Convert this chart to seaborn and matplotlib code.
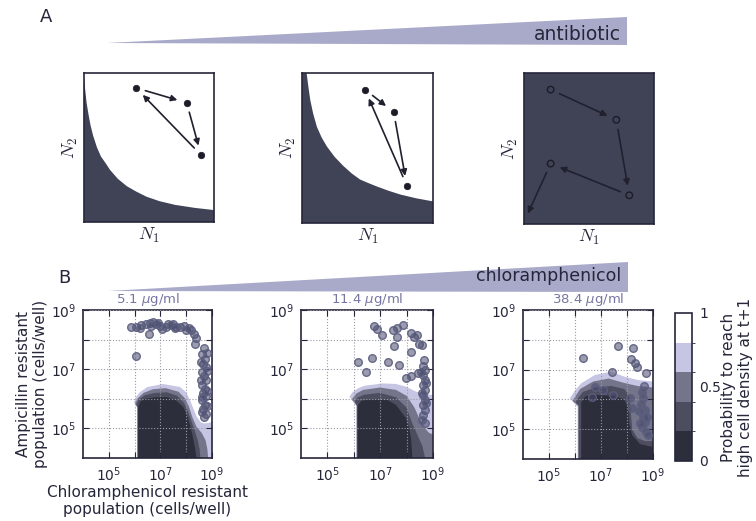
import numpy as np
import pandas as pd
import matplotlib
matplotlib.use("Agg")
import matplotlib.pyplot as plt
from matplotlib.patches import Polygon
from matplotlib.colors import ListedColormap, BoundaryNorm, to_rgba
from matplotlib.cm import ScalarMappable
from matplotlib.ticker import NullLocator
import seaborn as sns

sns.set_style("white")
plt.rcParams["font.family"] = ["DejaVu Sans"]

INK = "#26263a"
DARK = "#404256"
WEDGE = "#a9a9c9"

# ---------------- panel A: schematic trajectories (axes fractions) ----------------
a1_edge_x = [0.0, 0.01, 0.02, 0.035, 0.05, 0.07, 0.10, 0.13, 0.17, 0.20, 0.26, 0.33, 0.40,
             0.48, 0.58, 0.70, 0.85, 1.0]
a1_edge_y = [0.97, 0.88, 0.80, 0.72, 0.65, 0.58, 0.50, 0.44, 0.39, 0.35, 0.29, 0.24, 0.205,
             0.17, 0.14, 0.115, 0.095, 0.08]
a2_edge_x = [0.035, 0.05, 0.063, 0.085, 0.114, 0.15, 0.19, 0.25, 0.316, 0.38, 0.443, 0.51,
             0.57, 0.66, 0.75, 0.87, 1.0]
a2_edge_y = [1.0, 0.90, 0.82, 0.73, 0.64, 0.57, 0.51, 0.44, 0.38, 0.33, 0.29, 0.265,
             0.244, 0.215, 0.19, 0.165, 0.144]

a1_pts_x = [0.40, 0.79, 0.90]
a1_pts_y = [0.90, 0.80, 0.45]
a2_pts_x = [0.48, 0.70, 0.80]
a2_pts_y = [0.89, 0.74, 0.25]
a3_pts_x = [0.205, 0.71, 0.81, 0.205]
a3_pts_y = [0.89, 0.69, 0.19, 0.40]
a3_exit = [0.03, 0.07]

# ---------------- panel B: contour levels (log10 cells/well) ----------------
prob_levels = [0.0, 0.2, 0.4, 0.6, 0.8, 1.0]
prob_colors = ["#2d2e3b", "#4c4d5e", "#74758a", "#c6c6e4", "#ffffff"]

b1_p08 = ([6.10, 6.10, 5.98, 6.05, 6.20, 6.50, 7.10, 7.76, 8.00, 8.15, 8.30, 8.41, 8.55, 8.66, 8.85, 9.0, 9.0],
          [4.0, 5.70, 5.88, 6.05, 6.22, 6.40, 6.50, 6.40, 6.22, 5.95, 5.62, 5.39, 5.22, 5.17, 5.18, 5.22, 4.0])
b1_p06 = ([6.11, 6.11, 6.02, 6.12, 6.35, 6.70, 7.20, 7.70, 7.95, 8.10, 8.25, 8.40, 8.60, 8.75, 8.82, 8.85],
          [4.0, 5.72, 5.84, 6.02, 6.20, 6.32, 6.36, 6.24, 6.02, 5.75, 5.35, 5.05, 4.85, 4.60, 4.30, 4.0])
b1_p04 = ([6.12, 6.12, 6.06, 6.16, 6.40, 6.80, 7.25, 7.65, 7.90, 8.05, 8.20, 8.32, 8.45, 8.52, 8.55],
          [4.0, 5.72, 5.80, 5.98, 6.12, 6.20, 6.22, 6.10, 5.88, 5.62, 5.25, 4.95, 4.60, 4.30, 4.0])
b1_p02 = ([6.14, 6.14, 6.22, 6.40, 6.80, 7.24, 7.60, 7.89, 8.05, 8.15, 8.25, 8.34, 8.40],
          [4.0, 5.72, 5.90, 6.00, 6.05, 6.06, 5.95, 5.72, 5.40, 5.10, 4.75, 4.35, 4.0])

b2_p08 = ([6.10, 6.10, 5.83, 5.95, 6.15, 6.40, 7.10, 7.60, 7.98, 8.36, 8.70, 9.0, 9.0],
          [4.0, 5.75, 6.07, 6.22, 6.35, 6.44, 6.52, 6.50, 6.41, 6.24, 6.16, 6.13, 4.0])
b2_p06 = ([6.11, 6.11, 5.92, 6.10, 6.35, 7.00, 7.60, 8.00, 8.30, 8.50, 8.70, 8.85, 9.0, 9.0],
          [4.0, 5.78, 5.98, 6.18, 6.30, 6.38, 6.30, 6.10, 5.70, 5.30, 5.00, 4.85, 4.80, 4.0])
b2_p04 = ([6.12, 6.12, 6.02, 6.15, 6.40, 7.00, 7.60, 8.00, 8.20, 8.40, 8.60, 8.70],
          [4.0, 5.78, 5.90, 6.05, 6.14, 6.20, 6.05, 5.70, 5.20, 4.80, 4.40, 4.0])
b2_p02 = ([6.15, 6.15, 6.30, 6.60, 7.28, 7.60, 7.98, 8.10, 8.17, 8.22],
          [4.0, 5.79, 5.94, 5.97, 5.96, 5.79, 5.34, 5.00, 4.67, 4.0])

b3_p08 = ([6.10, 6.10, 5.80, 6.00, 6.24, 6.76, 7.40, 7.91, 8.42, 9.0, 9.0],
          [4.0, 5.75, 6.04, 6.30, 6.54, 6.82, 6.93, 6.76, 6.65, 6.60, 4.0])
b3_p06 = ([6.12, 6.12, 5.90, 6.20, 6.70, 7.30, 7.90, 8.40, 9.0, 9.0],
          [4.0, 5.78, 5.95, 6.35, 6.60, 6.70, 6.55, 6.45, 6.40, 4.0])
b3_p04 = ([6.15, 6.15, 6.00, 6.30, 6.80, 7.40, 7.90, 8.10, 8.15, 8.20, 8.40, 8.70, 9.0, 9.0],
          [4.0, 5.80, 5.90, 6.25, 6.40, 6.45, 6.35, 6.10, 5.50, 5.00, 4.70, 4.60, 4.60, 4.0])
b3_p02 = ([6.24, 6.24, 6.40, 6.70, 7.50, 7.90, 8.05, 8.08, 8.20, 8.50, 9.0, 9.0],
          [4.0, 5.90, 6.10, 6.15, 6.12, 6.00, 5.70, 5.20, 4.80, 4.50, 4.40, 4.0])

# ---------------- panel B: observed wells (log10 cells/well) ----------------
b1_cm = [5.85, 6.07, 6.26, 6.45, 6.58, 6.71, 6.84, 6.97, 7.06, 6.55, 7.29, 7.49, 7.62, 7.75,
         7.91, 8.00, 8.17, 8.30, 8.39, 8.33, 6.05, 6.20, 6.90, 7.20, 7.40, 8.10, 6.65, 7.55,
         8.69, 8.61, 8.72, 8.65, 8.75, 8.61, 8.69, 8.78, 8.63, 8.72, 8.65, 8.75, 8.61, 8.72,
         8.67, 8.75, 8.69, 8.80, 8.58, 8.80, 8.58, 8.82, 8.60, 8.80, 8.62]
b1_amp = [8.44, 8.44, 8.49, 8.52, 8.57, 8.60, 8.52, 8.46, 8.35, 8.18, 8.52, 8.52, 8.44, 8.41,
          8.46, 8.33, 8.33, 8.18, 8.04, 7.85, 7.46, 8.40, 8.56, 8.42, 8.48, 8.40, 8.45, 8.38,
          7.70, 7.51, 7.34, 7.17, 7.06, 6.90, 6.76, 6.62, 6.47, 6.34, 6.20, 6.09, 5.95, 5.80,
          5.64, 5.50, 5.39, 7.55, 7.25, 6.95, 6.65, 6.25, 6.05, 5.75, 5.55]

b2_cm = [6.75, 6.87, 7.08, 7.50, 7.65, 7.85, 8.17, 8.29, 7.52, 8.17, 8.48, 8.58, 7.62, 8.40,
         6.69, 6.15, 6.46, 7.28, 7.70, 7.98, 8.17, 8.42, 8.67,
         8.62, 8.70, 8.62, 8.70, 8.62, 8.70, 8.62, 8.70, 8.62, 8.70, 8.62, 8.70,
         8.55, 8.75, 8.58, 8.75, 8.60]
b2_amp = [8.47, 8.35, 8.15, 8.32, 8.40, 8.49, 8.21, 8.10, 7.79, 7.59, 7.84, 7.82, 8.08, 8.15,
          7.37, 7.23, 6.89, 7.23, 7.14, 6.71, 6.78, 6.86, 7.31,
          7.11, 6.97, 6.80, 6.64, 6.47, 6.30, 6.13, 5.96, 5.79, 5.62, 5.45, 5.17,
          6.90, 6.55, 6.20, 5.85, 5.30]

b3_cm = [6.32, 7.64, 8.24, 8.15, 8.31, 8.40, 8.73, 7.41, 8.65, 6.77, 7.07, 7.47, 8.56, 8.63,
         8.53, 8.69, 8.60, 8.69, 8.56, 8.73, 8.82, 6.64, 8.12, 8.20, 8.45, 8.75, 8.50]
b3_amp = [7.38, 7.79, 7.71, 7.35, 7.21, 7.08, 6.88, 6.93, 6.45, 6.41, 6.32, 6.15, 6.26, 6.04,
          5.85, 5.64, 5.42, 5.25, 5.08, 4.92, 4.81, 6.09, 6.04, 5.70, 5.60, 5.40, 5.20]

doses = ["5.1 $\\mu$g/ml", "11.4 $\\mu$g/ml", "38.4 $\\mu$g/ml"]
decade_ticks = [5, 6, 7, 8, 9]
decade_labels = ["$10^5$", "", "$10^7$", "", "$10^9$"]

W, H = 756, 521
fig = plt.figure(figsize=(W / 100, H / 100), dpi=100)


def add_ax(l, t, r, b):
    return fig.add_axes([l / W, 1 - b / H, (r - l) / W, (b - t) / H])


def style_frame(ax):
    for sp in ax.spines.values():
        sp.set_visible(True)
        sp.set_color(INK)
        sp.set_linewidth(1.2)


def wedge(x0, y0, x1, ytop, ybot):
    fig.patches.append(Polygon([[x0 / W, 1 - y0 / H], [x1 / W, 1 - ytop / H], [x1 / W, 1 - ybot / H]],
                               closed=True, transform=fig.transFigure, fc=WEDGE, ec="none"))


# ---------------- panel A ----------------
fig.text(40 / W, 1 - 17 / H, "A", fontsize=13, color=INK, ha="left", va="center")
wedge(107, 43, 627, 17, 45)
fig.text(621 / W, 1 - 35 / H, "antibiotic", fontsize=13.5, color=INK, ha="right", va="center")

a_boxes = [(84, 73, 214, 222), (302, 73, 433, 223), (524, 73, 654, 224)]
a_axes = [add_ax(*b) for b in a_boxes]
for ax in a_axes:
    ax.set_xlim(0, 1)
    ax.set_ylim(0, 1)
    ax.set_xticks([])
    ax.set_yticks([])
    style_frame(ax)
    ax.set_xlabel("$N_1$", fontsize=13, color=INK, labelpad=3, math_fontfamily="cm")
    ax.set_ylabel("$N_2$", fontsize=13, color=INK, labelpad=3, math_fontfamily="cm")

a_axes[0].fill([0] + a1_edge_x + [1], [0] + a1_edge_y + [0], color=DARK, lw=0)
a_axes[1].fill([0, 0] + a2_edge_x + [1], [0, 1] + a2_edge_y + [0], color=DARK, lw=0)
a_axes[2].set_facecolor(DARK)


def arrow(ax, p, q, shrink_end=7):
    ax.annotate("", xy=q, xytext=p,
                arrowprops=dict(arrowstyle="-|>", color="#20202e", lw=1.2,
                                mutation_scale=9, shrinkA=7, shrinkB=shrink_end))


for ax, xs, ys in [(a_axes[0], a1_pts_x, a1_pts_y), (a_axes[1], a2_pts_x, a2_pts_y)]:
    sns.scatterplot(x=xs, y=ys, ax=ax, s=22, color="#1c1c28", edgecolor="#1c1c28", linewidth=0.5, zorder=3)
    pts = list(zip(xs, ys))
    for i in range(3):
        arrow(ax, pts[i], pts[(i + 1) % 3])

sns.scatterplot(x=a3_pts_x, y=a3_pts_y, ax=a_axes[2], s=22, facecolor="none",
                edgecolor="#1c1c28", linewidth=1.0, zorder=3)
pts3 = list(zip(a3_pts_x, a3_pts_y))
for i in range(3):
    arrow(a_axes[2], pts3[i], pts3[i + 1])
arrow(a_axes[2], pts3[3], tuple(a3_exit), shrink_end=0)

# ---------------- panel B ----------------
fig.text(58 / W, 1 - 278 / H, "B", fontsize=13, color=INK, ha="left", va="center")
wedge(108, 291, 628, 262, 292)
fig.text(621 / W, 1 - 276 / H, "chloramphenicol", fontsize=12.5, color=INK, ha="right", va="center")

b_boxes = [(83, 310, 212, 458), (301, 310, 433, 458), (523, 310, 653, 459)]
contours = [(b1_p08, b1_p06, b1_p04, b1_p02), (b2_p08, b2_p06, b2_p04, b2_p02), (b3_p08, b3_p06, b3_p04, b3_p02)]
wells = [(b1_cm, b1_amp), (b2_cm, b2_amp), (b3_cm, b3_amp)]

face = to_rgba("#4a4c6c", 0.55)
edge = to_rgba("#5c5e80", 0.9)

for i, box in enumerate(b_boxes):
    ax = add_ax(*box)
    ax.set_xscale("log")
    ax.set_yscale("log")
    for poly, col in zip(contours[i], prob_colors[3::-1]):
        ax.fill(10 ** np.array(poly[0]), 10 ** np.array(poly[1]), color=col, lw=0, zorder=1)
    cm_x, amp_y = wells[i]
    df = pd.DataFrame({"cm": 10 ** np.array(cm_x), "amp": 10 ** np.array(amp_y)})
    sns.scatterplot(data=df, x="cm", y="amp", ax=ax, s=30, facecolor=face, edgecolor=edge,
                    linewidth=1.0, zorder=4)
    ax.set_xlim(1e4, 1e9)
    ax.set_ylim(1e4, 1e9)
    ax.set_xticks([10.0 ** k for k in decade_ticks])
    ax.set_xticklabels(decade_labels)
    ax.set_yticks([10.0 ** k for k in decade_ticks])
    ax.set_yticklabels(decade_labels)
    ax.xaxis.set_minor_locator(NullLocator())
    ax.yaxis.set_minor_locator(NullLocator())
    ax.tick_params(direction="in", length=4, width=0.8, colors=INK, labelsize=10,
                   top=True, right=True, bottom=True, left=True, pad=5)
    ax.grid(True, which="major", linestyle=":", color="#9a9aa6", linewidth=0.8, zorder=2)
    ax.set_axisbelow(False)
    style_frame(ax)
    ax.set_title(doses[i], fontsize=9.5, color="#7676a2", pad=5)
    ax.set_xlabel("")
    ax.set_ylabel("")
    if i == 0:
        ax.set_xlabel("Chloramphenicol resistant\npopulation (cells/well)", fontsize=11, color=INK, labelpad=1)
        ax.set_ylabel("Ampicillin resistant\npopulation (cells/well)", fontsize=11, color=INK, labelpad=2)

# colour bar for the probability levels
cax = add_ax(675, 313, 692, 461)
sm = ScalarMappable(norm=BoundaryNorm(prob_levels, len(prob_colors)), cmap=ListedColormap(prob_colors))
cb = fig.colorbar(sm, cax=cax, ticks=[0, 0.5, 1])
cb.ax.set_yticklabels(["0", "0.5", "1"])
cb.ax.tick_params(length=0, labelsize=10, colors=INK, pad=5)
cb.outline.set_edgecolor(INK)
cb.outline.set_linewidth(1.2)
cb.set_label("Probability to reach\nhigh cell density at t+1", fontsize=11, color=INK, labelpad=0)

fig.savefig("out.png", dpi=100)
